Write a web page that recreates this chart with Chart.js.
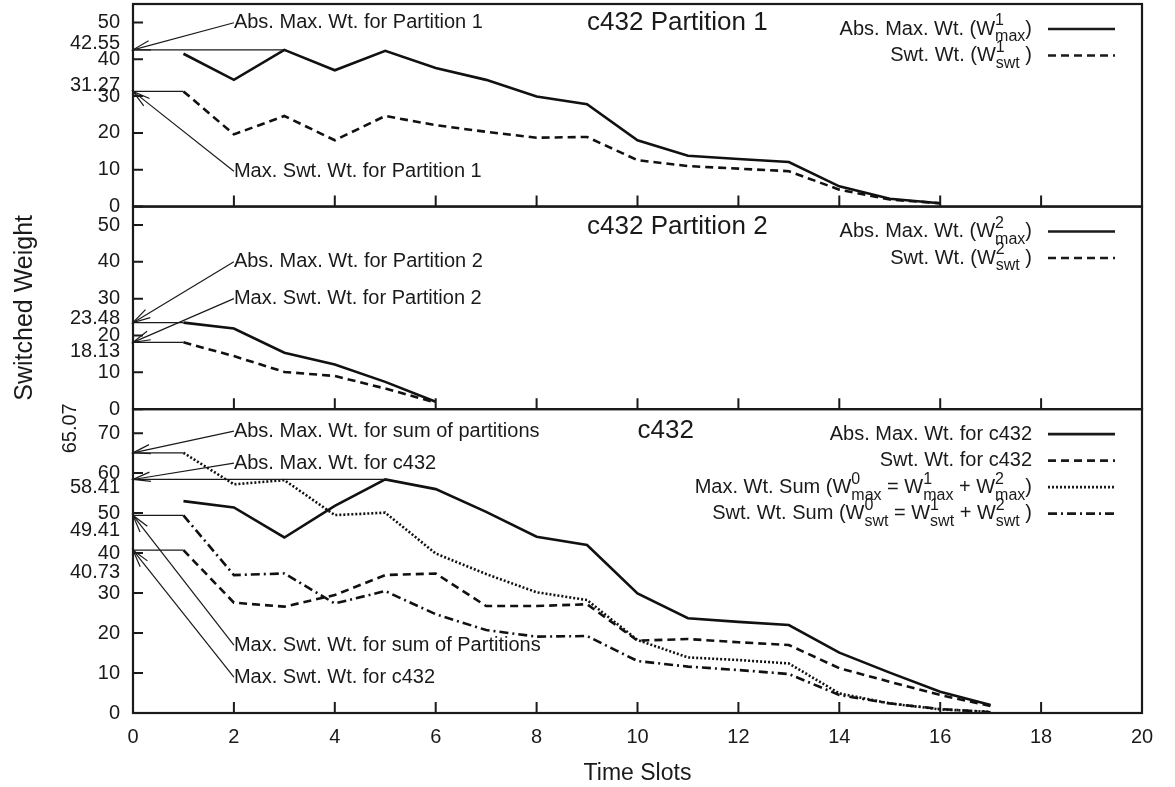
<!DOCTYPE html>
<html>
<head>
<meta charset="utf-8">
<script src="https://cdn.jsdelivr.net/npm/chart.js@4.4.1/dist/chart.umd.min.js"></script>
<style>
  html, body { margin: 0; padding: 0; background: #fff; }
</style>
</head>
<body>
<canvas id="myChart" width="1175" height="787"></canvas>
<script>
// time slots (x values)
const slots = [1, 2, 3, 4, 5, 6, 7, 8, 9, 10, 11, 12, 13, 14, 15, 16, 17];

// c432 partition 1
const p1Max = [41.5, 34.4, 42.55, 37.0, 42.3, 37.6, 34.4, 29.9, 27.8, 18.0, 13.8, 12.9, 12.1, 5.5, 2.1, 0.9];
const p1Swt = [31.27, 19.6, 24.6, 18.0, 24.6, 22.1, 20.3, 18.7, 18.9, 12.6, 11.0, 10.3, 9.6, 4.6, 1.9, 0.9];

// c432 partition 2
const p2Max = [23.48, 21.9, 15.3, 12.1, 7.4, 2.0];
const p2Swt = [18.13, 14.4, 10.1, 9.0, 5.6, 1.8];

// c432 whole circuit + sums of partitions
const cMax = [53.0, 51.4, 43.9, 51.8, 58.41, 56.0, 50.3, 44.1, 42.0, 29.9, 23.7, 22.8, 22.0, 15.1, 10.1, 5.3, 2.0];
const cSwt = [40.73, 27.6, 26.6, 29.5, 34.5, 34.9, 26.75, 26.75, 27.2, 18.1, 18.5, 17.7, 17.0, 11.2, 7.8, 4.5, 1.75];
const sumMax = [65.07, 57.2, 58.25, 49.5, 50.1, 39.9, 34.75, 30.2, 28.25, 18.25, 13.9, 13.25, 12.4, 4.9, 2.4, 0.9, 0.3];
const sumSwt = [49.41, 34.5, 34.9, 27.4, 30.5, 24.7, 20.75, 19.1, 19.25, 13.0, 11.6, 10.75, 9.75, 4.5, 2.4, 1.0, 0.2];

// tick labels
const xTickVals = [0, 2, 4, 6, 8, 10, 12, 14, 16, 18, 20];
const yTicksPart = [0, 10, 20, 30, 40, 50];
const yTicksAll = [0, 10, 20, 30, 40, 50, 60, 70];

// legend texts (^ = superscript, _ = subscript, stacked like gnuplot)
const legend1 = ["Abs. Max. Wt. (W^1_{max})", "Swt. Wt. (W^1_{swt} )"];
const legend2 = ["Abs. Max. Wt. (W^2_{max})", "Swt. Wt. (W^2_{swt} )"];
const legend3 = [
  "Abs. Max. Wt. for c432",
  "Swt. Wt. for c432",
  "Max. Wt. Sum (W^0_{max} = W^1_{max} + W^2_{max})",
  "Swt. Wt. Sum (W^0_{swt} = W^1_{swt} + W^2_{swt} )",
];

// peak values marked on the y axis, arrows point from the note text to them
const notes1 = [
  { text: "Abs. Max. Wt. for Partition 1", at: [2, 49.9], to: 42.55, lineTo: 3, label: "42.55", labelY: 44.4 },
  { text: "Max. Swt. Wt. for Partition 1", at: [2, 9.6], to: 31.27, lineTo: 1, label: "31.27", labelY: 33 },
];
const notes2 = [
  { text: "Abs. Max. Wt. for Partition 2", at: [2, 40], to: 23.48, lineTo: 1, label: "23.48", labelY: 24.6 },
  { text: "Max. Swt. Wt. for Partition 2", at: [2, 30], to: 18.13, lineTo: 1, label: "18.13", labelY: 15.6 },
];
const notes3 = [
  { text: "Abs. Max. Wt. for sum of partitions", at: [2, 70.5], to: 65.07, lineTo: 1, label: "65.07", labelY: 71.2, rotated: true },
  { text: "Abs. Max. Wt. for c432", at: [2, 62.5], to: 58.41, lineTo: 5, label: "58.41", labelY: 56.4 },
  { text: "Max. Swt. Wt. for sum of Partitions", at: [2, 17], to: 49.41, lineTo: 1, label: "49.41", labelY: 45.7 },
  { text: "Max. Swt. Wt. for c432", at: [2, 9], to: 40.73, lineTo: 1, label: "40.73", labelY: 35.1 },
];

const FONT = '"Liberation Sans", Arial, Helvetica, sans-serif';
const INK = "#1a1a1a";
const SOLID = [];
const DASHED = [8, 5];
const DOTTED = [2, 2];
const DASHDOT = [9, 4, 2, 4];

Chart.defaults.font.family = FONT;
Chart.defaults.color = INK;

const panels = [
  { axis: "y1", ticks: yTicksPart, notes: notes1, title: "c432 Partition 1", titleAt: [9, 50],
    legend: legend1, styles: [SOLID, DASHED] },
  { axis: "y2", ticks: yTicksPart, notes: notes2, title: "c432 Partition 2", titleAt: [9, 49.5],
    legend: legend2, styles: [SOLID, DASHED] },
  { axis: "y3", ticks: yTicksAll, notes: notes3, title: "c432", titleAt: [10, 70.7],
    legend: legend3, styles: [SOLID, DASHED, DOTTED, DASHDOT] },
];

const series = (vals) => vals.map((v, i) => ({ x: slots[i], y: v }));

const makeSet = (vals, axis, dash) => ({
  data: series(vals),
  yAxisID: axis,
  borderColor: "#111",
  borderWidth: 2.6,
  borderDash: dash,
  pointRadius: 0,
  tension: 0,
  fill: false,
});

// gnuplot style rich text: W^1_{max} draws 1 and max stacked
const parseRich = (str) => {
  const parts = [];
  let buf = "";
  let i = 0;
  while (i < str.length) {
    const c = str[i];
    if (c === "^" || c === "_") {
      if (buf) { parts.push({ t: buf, k: "n" }); buf = ""; }
      let t;
      if (str[i + 1] === "{") {
        const j = str.indexOf("}", i);
        t = str.slice(i + 2, j);
        i = j + 1;
      } else {
        t = str[i + 1];
        i += 2;
      }
      parts.push({ t, k: c === "^" ? "sup" : "sub" });
    } else {
      buf += c;
      i++;
    }
  }
  if (buf) parts.push({ t: buf, k: "n" });
  return parts;
};

const drawRich = (ctx, str, xEnd, y, size) => {
  const parts = parseRich(str);
  const big = `${size}px ${FONT}`;
  const small = `${Math.round(size * 0.8)}px ${FONT}`;
  const w = (t, f) => { ctx.font = f; return ctx.measureText(t).width; };
  // layout pass
  const items = [];
  let x = 0;
  for (let i = 0; i < parts.length; i++) {
    const p = parts[i];
    if (p.k === "n") {
      items.push({ t: p.t, f: big, x, dy: 0 });
      x += w(p.t, big);
    } else {
      const grp = [p];
      if (parts[i + 1] && parts[i + 1].k !== "n" && parts[i + 1].k !== p.k) grp.push(parts[++i]);
      let gw = 0;
      grp.forEach((g) => {
        items.push({ t: g.t, f: small, x, dy: g.k === "sup" ? -8 : 8 });
        gw = Math.max(gw, w(g.t, small));
      });
      x += gw;
    }
  }
  const x0 = xEnd - x;
  ctx.textAlign = "left";
  ctx.textBaseline = "middle";
  items.forEach((it) => {
    ctx.font = it.f;
    ctx.fillText(it.t, x0 + it.x, y + it.dy);
  });
};

const arrowHead = (ctx, fx, fy, tx, ty) => {
  const ang = Math.atan2(ty - fy, tx - fx);
  const len = 18, spread = Math.PI / 12;
  ctx.beginPath();
  ctx.moveTo(tx - len * Math.cos(ang - spread), ty - len * Math.sin(ang - spread));
  ctx.lineTo(tx, ty);
  ctx.lineTo(tx - len * Math.cos(ang + spread), ty - len * Math.sin(ang + spread));
  ctx.stroke();
};

const framePlugin = {
  id: "frame",
  afterDatasetsDraw(chart) {
    const ctx = chart.ctx;
    const xs = chart.scales.x;
    const L = chart.chartArea.left;
    const R = chart.chartArea.right;

    panels.forEach((p) => {
      const ys = chart.scales[p.axis];
      const T = ys.top, B = ys.bottom;
      ctx.save();
      ctx.strokeStyle = INK;
      ctx.fillStyle = INK;

      // ticks pointing inward
      ctx.lineWidth = 2;
      ctx.beginPath();
      p.ticks.forEach((v) => {
        const py = ys.getPixelForValue(v);
        ctx.moveTo(L, py);
        ctx.lineTo(L + 10, py);
      });
      xTickVals.forEach((v) => {
        const px = xs.getPixelForValue(v);
        ctx.moveTo(px, B);
        ctx.lineTo(px, B - 11);
      });
      ctx.stroke();
      ctx.lineWidth = 2.2;
      ctx.strokeRect(L, T, R - L, B - T);

      // guide lines, arrows, notes, marked values
      ctx.lineWidth = 1.2;
      p.notes.forEach((n) => {
        const y0 = ys.getPixelForValue(n.to);
        const x0 = xs.getPixelForValue(0);
        ctx.beginPath();
        ctx.moveTo(x0, y0);
        ctx.lineTo(xs.getPixelForValue(n.lineTo), y0);
        ctx.stroke();

        const fx = xs.getPixelForValue(n.at[0]);
        const fy = ys.getPixelForValue(n.at[1]);
        ctx.beginPath();
        ctx.moveTo(fx, fy);
        ctx.lineTo(x0, y0);
        ctx.stroke();
        arrowHead(ctx, fx, fy, x0, y0);

        ctx.font = `20px ${FONT}`;
        ctx.textAlign = "left";
        ctx.textBaseline = "middle";
        ctx.fillText(n.text, fx, fy);

        const ly = ys.getPixelForValue(n.labelY);
        if (n.rotated) {
          ctx.save();
          ctx.translate(L - 63, ly);
          ctx.rotate(-Math.PI / 2);
          ctx.textAlign = "center";
          ctx.fillText(n.label, 0, 0);
          ctx.restore();
        } else {
          ctx.textAlign = "right";
          ctx.fillText(n.label, L - 13, ly);
        }
      });

      // panel title
      ctx.font = `26px ${FONT}`;
      ctx.textAlign = "left";
      ctx.textBaseline = "middle";
      ctx.fillText(p.title, xs.getPixelForValue(p.titleAt[0]), ys.getPixelForValue(p.titleAt[1]));

      // legend
      p.legend.forEach((txt, i) => {
        const ry = T + 25 + i * 26.5;
        drawRich(ctx, txt, R - 110, ry, 20);
        ctx.lineWidth = 2.6;
        ctx.setLineDash(p.styles[i]);
        ctx.beginPath();
        ctx.moveTo(R - 94, ry);
        ctx.lineTo(R - 27, ry);
        ctx.stroke();
        ctx.setLineDash([]);
      });
      ctx.restore();
    });
  },
};

const yAxis = (ticks, max, stackWeight, weight, extra) => Object.assign({
  type: "linear",
  position: "left",
  stack: "panels",
  stackWeight,
  weight,
  min: 0,
  max,
  afterBuildTicks: (s) => { s.ticks = ticks.map((v) => ({ value: v })); },
  afterFit: (s) => { s.width = 133; s.paddingTop = 0; s.paddingBottom = 0; },
  grid: { display: false, drawTicks: false },
  border: { display: false },
  ticks: { font: { size: 20 }, color: INK, padding: 13, autoSkip: false },
}, extra || {});

new Chart(document.getElementById("myChart"), {
  type: "line",
  data: {
    datasets: [
      makeSet(p1Max, "y1", SOLID),
      makeSet(p1Swt, "y1", DASHED),
      makeSet(p2Max, "y2", SOLID),
      makeSet(p2Swt, "y2", DASHED),
      makeSet(cMax, "y3", SOLID),
      makeSet(cSwt, "y3", DASHED),
      makeSet(sumMax, "y3", DOTTED),
      makeSet(sumSwt, "y3", DASHDOT),
    ],
  },
  options: {
    responsive: false,
    animation: false,
    layout: { padding: { top: 4, right: 33, bottom: 0, left: 0 } },
    plugins: { legend: { display: false }, tooltip: { enabled: false } },
    scales: {
      x: {
        type: "linear",
        min: 0,
        max: 20,
        afterBuildTicks: (s) => { s.ticks = xTickVals.map((v) => ({ value: v })); },
        afterFit: (s) => { s.height = 74; s.paddingLeft = 0; s.paddingRight = 0; },
        grid: { display: false, drawTicks: false },
        border: { display: false },
        ticks: { font: { size: 20 }, color: INK, padding: 12, maxRotation: 0, autoSkip: false },
        title: { display: true, text: "Time Slots", font: { size: 23 }, color: INK, padding: { top: 0, bottom: 0 } },
      },
      y1: yAxis(yTicksPart, 55, 2, 3),
      y2: yAxis(yTicksPart, 55, 2, 2, {
        title: { display: true, text: "Switched Weight", font: { size: 25 }, color: INK, padding: { top: 10, bottom: 0 } },
      }),
      y3: yAxis(yTicksAll, 76, 3, 1),
    },
  },
  plugins: [framePlugin],
});
</script>
</body>
</html>
